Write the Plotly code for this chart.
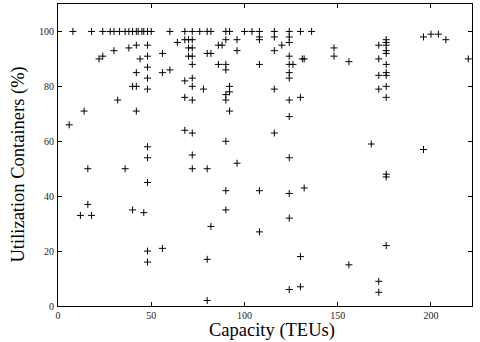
import plotly.graph_objects as go

capacity_teu = [
    8, 18, 24, 28, 30, 33, 36, 38, 40, 42, 43, 45, 46, 48, 50, 60, 68, 72, 76, 80, 82, 90, 92, 100, 104, 108, 116, 124, 130, 136,
    38, 42, 48, 30, 24, 22, 44, 48, 48, 42, 48, 40, 42, 48, 32, 14, 42,
    6, 48, 48, 16, 36, 48, 16, 40, 46, 12, 18, 48, 48,
    108, 108, 116, 124, 68, 70, 72, 90, 96, 64, 124, 120, 86, 88, 70, 72, 56, 96, 116, 70, 72, 80, 82, 124, 131, 132,
    72, 86, 90, 108, 124, 126, 56, 60, 90, 124, 68, 72, 124, 72, 78, 92, 92, 90, 116, 68, 72, 90, 124, 130, 92, 124,
    148, 148, 156, 172, 176, 176, 176, 176, 176, 172, 176, 172, 176, 176, 172, 176, 176, 196, 200, 204, 208, 220,
    68, 72, 116, 90, 72, 124, 96, 72, 80, 90, 108, 124, 132, 90, 124, 82,
    168, 196, 176, 176,
    108, 56, 80, 130, 124, 130, 80,
    176, 156, 172, 172,
]
utilization_pct = [
    100, 100, 100, 100, 100, 100, 100, 100, 100, 100, 100, 100, 100, 100, 100, 100, 100, 100, 100, 100, 100, 100, 100, 100, 100, 100, 100, 100, 100, 100,
    94, 95, 95, 93, 91, 90, 90, 91, 87, 85, 83, 80, 80, 79, 75, 71, 71,
    66, 58, 54, 50, 50, 45, 37, 35, 34, 33, 33, 20, 16,
    98, 97, 98, 98, 97, 97, 97, 97, 97, 96, 96, 95, 95, 95, 94, 94, 92, 93, 93, 91, 91, 92, 92, 91, 90, 90,
    88, 88, 88, 88, 88, 88, 85, 86, 86, 85, 82, 83, 83, 80, 79, 80, 78, 77, 79, 76, 75, 75, 75, 76, 71, 69,
    94, 91, 89, 95, 97, 96, 95, 93, 92, 90, 88, 84, 85, 84, 79, 80, 76, 98, 99, 99, 97, 90,
    64, 63, 63, 60, 55, 54, 52, 50, 50, 42, 42, 41, 43, 35, 32, 29,
    59, 57, 48, 47,
    27, 21, 17, 18, 6, 7, 2,
    22, 15, 9, 5,
]

x_ticks = [0, 50, 100, 150, 200]
y_ticks = [0, 20, 40, 60, 80, 100]

fig = go.Figure(
    go.Scatter(
        x=capacity_teu,
        y=utilization_pct,
        mode="markers",
        marker=dict(symbol="cross-thin", size=5, line=dict(width=1, color="black"), color="black"),
        showlegend=False,
        hoverinfo="skip",
    )
)

axis_common = dict(
    showline=True, linecolor="black", linewidth=1, mirror="ticks",
    ticks="inside", ticklen=4, tickcolor="black", tickwidth=1,
    showgrid=False, zeroline=False, automargin=False,
    tickfont=dict(family="Liberation Serif", size=10, color="#222"),
)

fig.update_xaxes(range=[0, 222], tickvals=x_ticks, ticktext=[str(v) for v in x_ticks], ticklabelstandoff=0, **axis_common)
fig.update_yaxes(range=[0, 110], tickvals=y_ticks, ticktext=[str(v) for v in y_ticks], ticklabelstandoff=1, **axis_common)

fig.add_annotation(text="Capacity (TEUs)", xref="paper", yref="paper", x=0.5, y=0,
                   xshift=7, yshift=-24.5, yanchor="middle", showarrow=False,
                   font=dict(family="Liberation Serif", size=18.5, color="black"))
fig.add_annotation(text="Utilization Containers (%)", xref="paper", yref="paper", x=0, y=0.5,
                   xshift=-40.5, yshift=-10, xanchor="center", yanchor="middle", textangle=-90, showarrow=False,
                   font=dict(family="Liberation Serif", size=18.5, color="black"))

fig.update_layout(
    width=480, height=342,
    margin=dict(l=58, r=8, t=4, b=36),
    plot_bgcolor="white", paper_bgcolor="white",
)

fig.write_html("out.html", config={"displayModeBar": False},
               post_script="document.body.style.margin='0';document.body.style.overflow='hidden';")
